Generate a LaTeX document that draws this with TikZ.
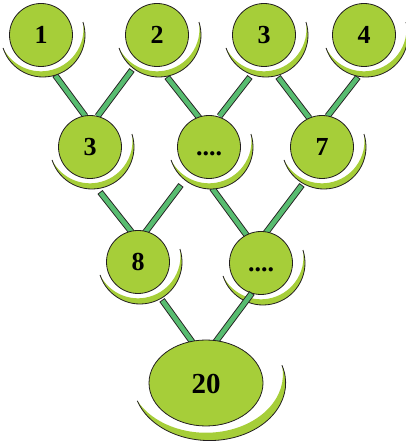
\documentclass[tikz,border=0pt]{standalone}
\usepackage{fontspec}
\setmainfont{Liberation Serif}
\usetikzlibrary{calc,shapes.geometric}
\definecolor{bubg}{RGB}{166,206,57}
\definecolor{barg}{RGB}{88,188,112}
\definecolor{outl}{RGB}{35,31,32}
\tikzset{
 bub/.style={circle, draw=outl, line width=0.8pt, fill=bubg, minimum size=63pt, inner sep=0pt,
   font=\fontsize{26}{26}\selectfont\bfseries, text height=18pt, text depth=0pt},
 bigbub/.style={ellipse, draw=outl, line width=0.8pt, fill=bubg, minimum width=114pt, minimum height=86pt, inner sep=0pt,
   font=\fontsize{29}{29}\selectfont\bfseries, text height=20pt, text depth=0pt},
 bar/.style={draw=outl, line width=6.4pt, shorten >=-4pt,
   postaction={draw=barg, line width=4.6pt, shorten <=0.9pt, shorten >=-4pt}},
 topbar/.style={draw=outl, line width=6.4pt,
   postaction={draw=barg, line width=4.6pt, shorten <=0.9pt, shorten >=0.9pt}},
}
\newcommand\crest[3]{%
 \begin{scope}[shift={#1}, xscale=#2, yscale=#3]
  \fill[bubg] (2,0) ++(198:42) arc[start angle=198, end angle=378, radius=42]
     arc[start angle=369.2, end angle=206.8, radius=42.5] -- cycle;
  \draw[outl, line width=0.8pt] (2,0) ++(198:42) arc[start angle=198, end angle=378, radius=42];
 \end{scope}}
\begin{document}
\begin{tikzpicture}[x=1pt,y=1pt]
\fill[white] (0,0) rectangle (405,445);
\useasboundingbox (0,0) rectangle (405,445);
% node positions
\coordinate (n1) at (41,410);
\coordinate (n2) at (157,410);
\coordinate (n3) at (264,410);
\coordinate (n4) at (364,410);
\coordinate (m1) at (90,298);
\coordinate (m2) at (209,298);
\coordinate (m3) at (322,298);
\coordinate (b1) at (138,183);
\coordinate (b2) at (261,182);
\coordinate (rt) at (206,62);
% bars behind
\draw[bar] ($(n1)+(14,-40)$) -- ($(m1)+(-7,34)$);
\draw[bar] ($(n2)+(-25,-35)$) -- ($(m1)+(10,34)$);
\draw[bar] ($(n2)+(10,-42)$) -- ($(m2)+(-12,32)$);
\draw[bar] ($(n3)+(-14,-42)$) -- ($(m2)+(13,34)$);
\draw[bar] ($(n3)+(14,-42)$) -- ($(m3)+(-15,32)$);
\draw[bar] ($(n4)+(-6,-42)$) -- ($(m3)+(8,34)$);
\draw[bar] ($(m1)+(10,-45)$) -- ($(b1)+(-8,32)$);
\draw[bar] ($(m2)+(-28,-38)$) -- ($(b1)+(9,32)$);
\draw[bar] ($(m2)+(3,-41)$) -- ($(b2)+(-16,30)$);
\draw[bar] ($(m3)+(-20,-38)$) -- ($(b2)+(7,33)$);
\draw[bar] ($(b1)+(24,-38)$) -- ($(rt)+(-13,40)$);
% bubbles
\crest{(n1)}{1}{1} \node[bub] (N1) at (n1) {1};
\crest{(n2)}{1}{1} \node[bub] (N2) at (n2) {2};
\crest{(n3)}{1}{1} \node[bub] (N3) at (n3) {3};
\crest{(n4)}{1}{1} \node[bub] (N4) at (n4) {4};
\crest{(m1)}{1}{1} \node[bub] (M1) at (m1) {3};
\crest{(m2)}{1}{1} \node[bub] (M2) at (m2) {....};
\crest{(m3)}{1}{1} \node[bub] (M3) at (m3) {7};
\crest{(b1)}{1}{1} \node[bub] (B1) at (b1) {8};
\crest{(b2)}{1}{1} \node[bub] (B2) at (b2) {....};
\draw[bar] ($(b2)+(-9,-30)$) -- ($(rt)+(11,43)$);
\crest{(rt)}{1.81}{1.37} \node[bigbub] (R) at (rt) {20};
\end{tikzpicture}
\end{document}
